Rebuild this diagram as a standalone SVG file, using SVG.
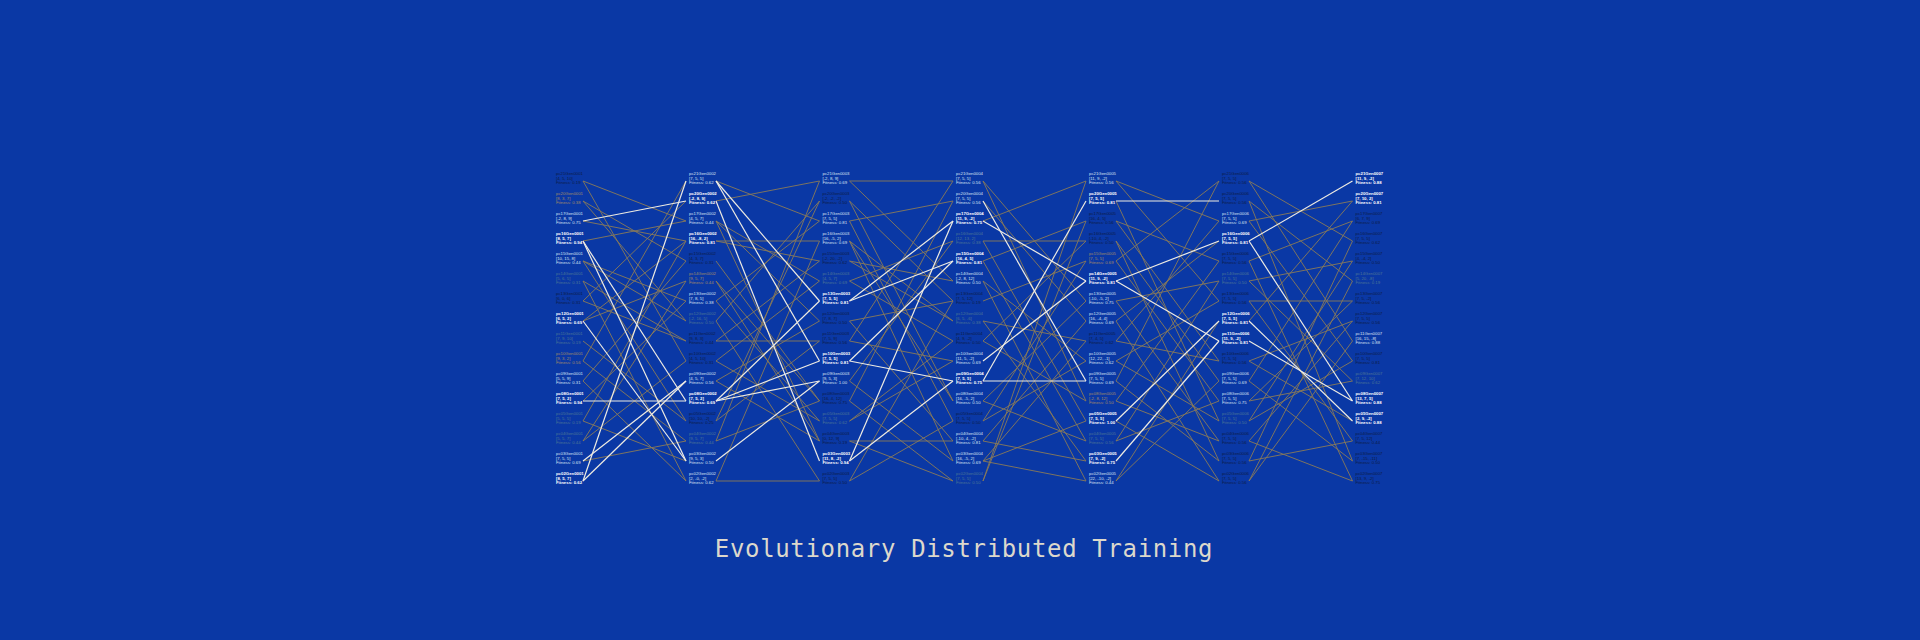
<svg xmlns="http://www.w3.org/2000/svg" width="1920" height="640" viewBox="0 0 1920 640">
<style>
.n text{font-family:"Liberation Sans",Arial,sans-serif;font-size:4.3px}
.w{fill:#ffffff;font-weight:bold}
.l{fill:#dbe3f3}
.d{fill:#0d1c45}
.t{fill:#a48c68}
.f{fill:#4d7696}
.ew{stroke:#eeebe2;stroke-width:1.2;fill:none}
.et{stroke:#8a7b58;stroke-width:0.9;fill:none}
.title{font-family:"DejaVu Sans Mono",monospace;font-size:24px;letter-spacing:0.65px;fill:#dcd8cc}
</style>
<rect width="1920" height="640" fill="#0a38a5"/>
<g id="connectors">
<g id="gap1">
<line class="et" x1="583" y1="201" x2="686" y2="261"/>
<line class="et" x1="583" y1="201" x2="686" y2="321"/>
<line class="et" x1="583" y1="181" x2="686" y2="221"/>
<line class="et" x1="583" y1="181" x2="686" y2="361"/>
<line class="et" x1="583" y1="241" x2="686" y2="221"/>
<line class="et" x1="583" y1="261" x2="686" y2="301"/>
<line class="et" x1="583" y1="261" x2="686" y2="321"/>
<line class="et" x1="583" y1="261" x2="686" y2="421"/>
<line class="et" x1="583" y1="281" x2="686" y2="341"/>
<line class="et" x1="583" y1="281" x2="686" y2="481"/>
<line class="et" x1="583" y1="301" x2="686" y2="201"/>
<line class="et" x1="583" y1="321" x2="686" y2="241"/>
<line class="et" x1="583" y1="321" x2="686" y2="281"/>
<line class="et" x1="583" y1="341" x2="686" y2="421"/>
<line class="et" x1="583" y1="361" x2="686" y2="181"/>
<line class="et" x1="583" y1="361" x2="686" y2="441"/>
<line class="et" x1="583" y1="381" x2="686" y2="261"/>
<line class="et" x1="583" y1="381" x2="686" y2="481"/>
<line class="et" x1="583" y1="401" x2="686" y2="301"/>
<line class="et" x1="583" y1="421" x2="686" y2="241"/>
<line class="et" x1="583" y1="441" x2="686" y2="281"/>
<line class="et" x1="583" y1="441" x2="686" y2="361"/>
<line class="et" x1="583" y1="461" x2="686" y2="441"/>
<line class="et" x1="583" y1="301" x2="686" y2="341"/>
<line class="et" x1="583" y1="221" x2="686" y2="241"/>
<line class="et" x1="583" y1="421" x2="686" y2="461"/>
<line class="ew" x1="583" y1="221" x2="686" y2="201"/>
<line class="ew" x1="583" y1="241" x2="686" y2="401"/>
<line class="ew" x1="583" y1="241" x2="686" y2="461"/>
<line class="ew" x1="583" y1="321" x2="686" y2="461"/>
<line class="ew" x1="583" y1="401" x2="686" y2="401"/>
<line class="ew" x1="583" y1="481" x2="686" y2="181"/>
<line class="ew" x1="583" y1="461" x2="686" y2="381"/>
<line class="ew" x1="583" y1="481" x2="686" y2="381"/>
</g>
<g id="gap2">
<line class="et" x1="716" y1="201" x2="819.5" y2="181"/>
<line class="et" x1="716" y1="241" x2="819.5" y2="241"/>
<line class="et" x1="716" y1="181" x2="819.5" y2="221"/>
<line class="et" x1="716" y1="221" x2="819.5" y2="281"/>
<line class="et" x1="716" y1="221" x2="819.5" y2="321"/>
<line class="et" x1="716" y1="241" x2="819.5" y2="261"/>
<line class="et" x1="716" y1="261" x2="819.5" y2="401"/>
<line class="et" x1="716" y1="281" x2="819.5" y2="441"/>
<line class="et" x1="716" y1="301" x2="819.5" y2="221"/>
<line class="et" x1="716" y1="301" x2="819.5" y2="421"/>
<line class="et" x1="716" y1="321" x2="819.5" y2="201"/>
<line class="et" x1="716" y1="321" x2="819.5" y2="481"/>
<line class="et" x1="716" y1="341" x2="819.5" y2="261"/>
<line class="et" x1="716" y1="341" x2="819.5" y2="341"/>
<line class="et" x1="716" y1="361" x2="819.5" y2="281"/>
<line class="et" x1="716" y1="361" x2="819.5" y2="421"/>
<line class="et" x1="716" y1="381" x2="819.5" y2="321"/>
<line class="et" x1="716" y1="381" x2="819.5" y2="441"/>
<line class="et" x1="716" y1="421" x2="819.5" y2="201"/>
<line class="et" x1="716" y1="421" x2="819.5" y2="341"/>
<line class="et" x1="716" y1="441" x2="819.5" y2="181"/>
<line class="et" x1="716" y1="441" x2="819.5" y2="401"/>
<line class="et" x1="716" y1="481" x2="819.5" y2="241"/>
<line class="et" x1="716" y1="481" x2="819.5" y2="481"/>
<line class="et" x1="716" y1="221" x2="819.5" y2="441"/>
<line class="et" x1="716" y1="281" x2="819.5" y2="401"/>
<line class="ew" x1="716" y1="181" x2="819.5" y2="301"/>
<line class="ew" x1="716" y1="181" x2="819.5" y2="361"/>
<line class="ew" x1="716" y1="201" x2="819.5" y2="461"/>
<line class="ew" x1="716" y1="401" x2="819.5" y2="301"/>
<line class="ew" x1="716" y1="401" x2="819.5" y2="361"/>
<line class="ew" x1="716" y1="401" x2="819.5" y2="381"/>
<line class="ew" x1="716" y1="461" x2="819.5" y2="381"/>
</g>
<g id="gap3">
<line class="et" x1="849.5" y1="181" x2="953" y2="181"/>
<line class="et" x1="849.5" y1="181" x2="953" y2="281"/>
<line class="et" x1="849.5" y1="201" x2="953" y2="301"/>
<line class="et" x1="849.5" y1="201" x2="953" y2="401"/>
<line class="et" x1="849.5" y1="221" x2="953" y2="201"/>
<line class="et" x1="849.5" y1="221" x2="953" y2="421"/>
<line class="et" x1="849.5" y1="241" x2="953" y2="321"/>
<line class="et" x1="849.5" y1="241" x2="953" y2="401"/>
<line class="et" x1="849.5" y1="241" x2="953" y2="461"/>
<line class="et" x1="849.5" y1="261" x2="953" y2="281"/>
<line class="et" x1="849.5" y1="261" x2="953" y2="321"/>
<line class="et" x1="849.5" y1="281" x2="953" y2="241"/>
<line class="et" x1="849.5" y1="281" x2="953" y2="341"/>
<line class="et" x1="849.5" y1="321" x2="953" y2="301"/>
<line class="et" x1="849.5" y1="321" x2="953" y2="441"/>
<line class="et" x1="849.5" y1="341" x2="953" y2="361"/>
<line class="et" x1="849.5" y1="341" x2="953" y2="181"/>
<line class="et" x1="849.5" y1="381" x2="953" y2="461"/>
<line class="et" x1="849.5" y1="381" x2="953" y2="241"/>
<line class="et" x1="849.5" y1="401" x2="953" y2="481"/>
<line class="et" x1="849.5" y1="401" x2="953" y2="201"/>
<line class="et" x1="849.5" y1="421" x2="953" y2="341"/>
<line class="et" x1="849.5" y1="421" x2="953" y2="361"/>
<line class="et" x1="849.5" y1="441" x2="953" y2="441"/>
<line class="et" x1="849.5" y1="441" x2="953" y2="481"/>
<line class="et" x1="849.5" y1="481" x2="953" y2="421"/>
<line class="et" x1="849.5" y1="481" x2="953" y2="301"/>
<line class="ew" x1="849.5" y1="461" x2="953" y2="221"/>
<line class="ew" x1="849.5" y1="301" x2="953" y2="221"/>
<line class="ew" x1="849.5" y1="301" x2="953" y2="261"/>
<line class="ew" x1="849.5" y1="361" x2="953" y2="261"/>
<line class="ew" x1="849.5" y1="361" x2="953" y2="381"/>
<line class="ew" x1="849.5" y1="461" x2="953" y2="381"/>
</g>
<g id="gap4">
<line class="et" x1="983" y1="221" x2="1086" y2="181"/>
<line class="et" x1="983" y1="261" x2="1086" y2="221"/>
<line class="et" x1="983" y1="181" x2="1086" y2="301"/>
<line class="et" x1="983" y1="181" x2="1086" y2="401"/>
<line class="et" x1="983" y1="201" x2="1086" y2="321"/>
<line class="et" x1="983" y1="241" x2="1086" y2="241"/>
<line class="et" x1="983" y1="241" x2="1086" y2="421"/>
<line class="et" x1="983" y1="261" x2="1086" y2="441"/>
<line class="et" x1="983" y1="281" x2="1086" y2="361"/>
<line class="et" x1="983" y1="281" x2="1086" y2="481"/>
<line class="et" x1="983" y1="301" x2="1086" y2="261"/>
<line class="et" x1="983" y1="321" x2="1086" y2="341"/>
<line class="et" x1="983" y1="321" x2="1086" y2="461"/>
<line class="et" x1="983" y1="341" x2="1086" y2="241"/>
<line class="et" x1="983" y1="341" x2="1086" y2="401"/>
<line class="et" x1="983" y1="401" x2="1086" y2="301"/>
<line class="et" x1="983" y1="401" x2="1086" y2="441"/>
<line class="et" x1="983" y1="421" x2="1086" y2="261"/>
<line class="et" x1="983" y1="421" x2="1086" y2="361"/>
<line class="et" x1="983" y1="441" x2="1086" y2="321"/>
<line class="et" x1="983" y1="441" x2="1086" y2="461"/>
<line class="et" x1="983" y1="461" x2="1086" y2="341"/>
<line class="et" x1="983" y1="461" x2="1086" y2="421"/>
<line class="et" x1="983" y1="461" x2="1086" y2="481"/>
<line class="et" x1="983" y1="481" x2="1086" y2="181"/>
<line class="et" x1="983" y1="481" x2="1086" y2="221"/>
<line class="ew" x1="983" y1="221" x2="1086" y2="281"/>
<line class="ew" x1="983" y1="361" x2="1086" y2="281"/>
<line class="ew" x1="983" y1="381" x2="1086" y2="201"/>
<line class="ew" x1="983" y1="201" x2="1086" y2="381"/>
<line class="ew" x1="983" y1="381" x2="1086" y2="381"/>
</g>
<g id="gap5">
<line class="et" x1="1116" y1="181" x2="1219" y2="221"/>
<line class="et" x1="1116" y1="181" x2="1219" y2="301"/>
<line class="et" x1="1116" y1="201" x2="1219" y2="421"/>
<line class="et" x1="1116" y1="221" x2="1219" y2="261"/>
<line class="et" x1="1116" y1="221" x2="1219" y2="361"/>
<line class="et" x1="1116" y1="241" x2="1219" y2="381"/>
<line class="et" x1="1116" y1="241" x2="1219" y2="461"/>
<line class="et" x1="1116" y1="261" x2="1219" y2="181"/>
<line class="et" x1="1116" y1="261" x2="1219" y2="401"/>
<line class="et" x1="1116" y1="301" x2="1219" y2="281"/>
<line class="et" x1="1116" y1="301" x2="1219" y2="441"/>
<line class="et" x1="1116" y1="321" x2="1219" y2="481"/>
<line class="et" x1="1116" y1="321" x2="1219" y2="241"/>
<line class="et" x1="1116" y1="341" x2="1219" y2="221"/>
<line class="et" x1="1116" y1="341" x2="1219" y2="361"/>
<line class="et" x1="1116" y1="361" x2="1219" y2="301"/>
<line class="et" x1="1116" y1="361" x2="1219" y2="421"/>
<line class="et" x1="1116" y1="381" x2="1219" y2="181"/>
<line class="et" x1="1116" y1="381" x2="1219" y2="461"/>
<line class="et" x1="1116" y1="401" x2="1219" y2="261"/>
<line class="et" x1="1116" y1="401" x2="1219" y2="441"/>
<line class="et" x1="1116" y1="441" x2="1219" y2="281"/>
<line class="et" x1="1116" y1="441" x2="1219" y2="401"/>
<line class="et" x1="1116" y1="481" x2="1219" y2="321"/>
<line class="et" x1="1116" y1="481" x2="1219" y2="381"/>
<line class="et" x1="1116" y1="421" x2="1219" y2="481"/>
<line class="ew" x1="1116" y1="201" x2="1219" y2="201"/>
<line class="ew" x1="1116" y1="281" x2="1219" y2="341"/>
<line class="ew" x1="1116" y1="461" x2="1219" y2="341"/>
<line class="ew" x1="1116" y1="281" x2="1219" y2="241"/>
<line class="ew" x1="1116" y1="421" x2="1219" y2="321"/>
</g>
<g id="gap6">
<line class="et" x1="1249" y1="181" x2="1352.5" y2="241"/>
<line class="et" x1="1249" y1="181" x2="1352.5" y2="341"/>
<line class="et" x1="1249" y1="201" x2="1352.5" y2="281"/>
<line class="et" x1="1249" y1="201" x2="1352.5" y2="461"/>
<line class="et" x1="1249" y1="221" x2="1352.5" y2="201"/>
<line class="et" x1="1249" y1="221" x2="1352.5" y2="361"/>
<line class="et" x1="1249" y1="261" x2="1352.5" y2="221"/>
<line class="et" x1="1249" y1="261" x2="1352.5" y2="481"/>
<line class="et" x1="1249" y1="281" x2="1352.5" y2="261"/>
<line class="et" x1="1249" y1="281" x2="1352.5" y2="381"/>
<line class="et" x1="1249" y1="301" x2="1352.5" y2="301"/>
<line class="et" x1="1249" y1="301" x2="1352.5" y2="441"/>
<line class="et" x1="1249" y1="321" x2="1352.5" y2="201"/>
<line class="et" x1="1249" y1="361" x2="1352.5" y2="321"/>
<line class="et" x1="1249" y1="361" x2="1352.5" y2="421"/>
<line class="et" x1="1249" y1="381" x2="1352.5" y2="221"/>
<line class="et" x1="1249" y1="381" x2="1352.5" y2="461"/>
<line class="et" x1="1249" y1="401" x2="1352.5" y2="301"/>
<line class="et" x1="1249" y1="401" x2="1352.5" y2="381"/>
<line class="et" x1="1249" y1="421" x2="1352.5" y2="261"/>
<line class="et" x1="1249" y1="421" x2="1352.5" y2="361"/>
<line class="et" x1="1249" y1="441" x2="1352.5" y2="321"/>
<line class="et" x1="1249" y1="441" x2="1352.5" y2="481"/>
<line class="et" x1="1249" y1="461" x2="1352.5" y2="241"/>
<line class="et" x1="1249" y1="461" x2="1352.5" y2="441"/>
<line class="et" x1="1249" y1="481" x2="1352.5" y2="281"/>
<line class="et" x1="1249" y1="481" x2="1352.5" y2="341"/>
<line class="ew" x1="1249" y1="241" x2="1352.5" y2="401"/>
<line class="ew" x1="1249" y1="341" x2="1352.5" y2="401"/>
<line class="ew" x1="1249" y1="321" x2="1352.5" y2="421"/>
<line class="ew" x1="1249" y1="241" x2="1352.5" y2="181"/>
</g>
</g>
<g id="col1" class="n">
<g id="pc21Gen0001" class="d" transform="translate(556,172)"><text y="3">pc21Gen0001</text><text y="7.7">[4, 5, 10]</text><text y="12.4">Fitness: 0.19</text></g>
<g id="pc20Gen0001" class="t" transform="translate(556,192)"><text y="3">pc20Gen0001</text><text y="7.7">[8, 3, 7]</text><text y="12.4">Fitness: 0.38</text></g>
<g id="pc17Gen0001" class="l" transform="translate(556,212)"><text y="3">pc17Gen0001</text><text y="7.7">[-2, 8, 9]</text><text y="12.4">Fitness: 0.75</text></g>
<g id="pc16Gen0001" class="w" transform="translate(556,232)"><text y="3">pc16Gen0001</text><text y="7.7">[8, 5, 7]</text><text y="12.4">Fitness: 0.94</text></g>
<g id="pc15Gen0001" class="l" transform="translate(556,252)"><text y="3">pc15Gen0001</text><text y="7.7">[10, 15, 8]</text><text y="12.4">Fitness: 0.44</text></g>
<g id="pc14Gen0001" class="f" transform="translate(556,272)"><text y="3">pc14Gen0001</text><text y="7.7">[5, 6, 5]</text><text y="12.4">Fitness: 0.31</text></g>
<g id="pc13Gen0001" class="d" transform="translate(556,292)"><text y="3">pc13Gen0001</text><text y="7.7">[6, 0, 6]</text><text y="12.4">Fitness: 0.31</text></g>
<g id="pc12Gen0001" class="w" transform="translate(556,312)"><text y="3">pc12Gen0001</text><text y="7.7">[6, 5, 2]</text><text y="12.4">Fitness: 0.69</text></g>
<g id="pc11Gen0001" class="f" transform="translate(556,332)"><text y="3">pc11Gen0001</text><text y="7.7">[7, 9, 10]</text><text y="12.4">Fitness: 0.19</text></g>
<g id="pc10Gen0001" class="t" transform="translate(556,352)"><text y="3">pc10Gen0001</text><text y="7.7">[9, 3, 2]</text><text y="12.4">Fitness: 0.56</text></g>
<g id="pc09Gen0001" class="l" transform="translate(556,372)"><text y="3">pc09Gen0001</text><text y="7.7">[5, 5, 9]</text><text y="12.4">Fitness: 0.31</text></g>
<g id="pc08Gen0001" class="w" transform="translate(556,392)"><text y="3">pc08Gen0001</text><text y="7.7">[7, 5, 2]</text><text y="12.4">Fitness: 0.94</text></g>
<g id="pc05Gen0001" class="f" transform="translate(556,412)"><text y="3">pc05Gen0001</text><text y="7.7">[5, 5, 5]</text><text y="12.4">Fitness: 0.19</text></g>
<g id="pc04Gen0001" class="f" transform="translate(556,432)"><text y="3">pc04Gen0001</text><text y="7.7">[5, 5, 7]</text><text y="12.4">Fitness: 0.44</text></g>
<g id="pc03Gen0001" class="l" transform="translate(556,452)"><text y="3">pc03Gen0001</text><text y="7.7">[7, 5, 5]</text><text y="12.4">Fitness: 0.69</text></g>
<g id="pc02Gen0001" class="w" transform="translate(556,472)"><text y="3">pc02Gen0001</text><text y="7.7">[8, 5, 7]</text><text y="12.4">Fitness: 0.62</text></g>
</g>
<g id="col2" class="n">
<g id="pc21Gen0002" class="l" transform="translate(689,172)"><text y="3">pc21Gen0002</text><text y="7.7">[7, 5, 5]</text><text y="12.4">Fitness: 0.62</text></g>
<g id="pc20Gen0002" class="w" transform="translate(689,192)"><text y="3">pc20Gen0002</text><text y="7.7">[-2, 8, 9]</text><text y="12.4">Fitness: 0.62</text></g>
<g id="pc17Gen0002" class="l" transform="translate(689,212)"><text y="3">pc17Gen0002</text><text y="7.7">[4, 5, 7]</text><text y="12.4">Fitness: 0.44</text></g>
<g id="pc16Gen0002" class="w" transform="translate(689,232)"><text y="3">pc16Gen0002</text><text y="7.7">[16, -8, 2]</text><text y="12.4">Fitness: 0.81</text></g>
<g id="pc15Gen0002" class="d" transform="translate(689,252)"><text y="3">pc15Gen0002</text><text y="7.7">[4, 3, 7]</text><text y="12.4">Fitness: 0.31</text></g>
<g id="pc14Gen0002" class="t" transform="translate(689,272)"><text y="3">pc14Gen0002</text><text y="7.7">[9, 5, 7]</text><text y="12.4">Fitness: 0.44</text></g>
<g id="pc13Gen0002" class="l" transform="translate(689,292)"><text y="3">pc13Gen0002</text><text y="7.7">[7, 8, 5]</text><text y="12.4">Fitness: 0.38</text></g>
<g id="pc12Gen0002" class="f" transform="translate(689,312)"><text y="3">pc12Gen0002</text><text y="7.7">[-2, 16, 5]</text><text y="12.4">Fitness: 0.50</text></g>
<g id="pc11Gen0002" class="d" transform="translate(689,332)"><text y="3">pc11Gen0002</text><text y="7.7">[9, 8, 3]</text><text y="12.4">Fitness: 0.44</text></g>
<g id="pc10Gen0002" class="d" transform="translate(689,352)"><text y="3">pc10Gen0002</text><text y="7.7">[4, 5, 10]</text><text y="12.4">Fitness: 0.31</text></g>
<g id="pc09Gen0002" class="l" transform="translate(689,372)"><text y="3">pc09Gen0002</text><text y="7.7">[4, 5, 7]</text><text y="12.4">Fitness: 0.56</text></g>
<g id="pc08Gen0002" class="w" transform="translate(689,392)"><text y="3">pc08Gen0002</text><text y="7.7">[7, 5, 2]</text><text y="12.4">Fitness: 0.69</text></g>
<g id="pc05Gen0002" class="d" transform="translate(689,412)"><text y="3">pc05Gen0002</text><text y="7.7">[10, 10, -2]</text><text y="12.4">Fitness: 0.25</text></g>
<g id="pc04Gen0002" class="f" transform="translate(689,432)"><text y="3">pc04Gen0002</text><text y="7.7">[9, 5, 7]</text><text y="12.4">Fitness: 0.44</text></g>
<g id="pc03Gen0002" class="l" transform="translate(689,452)"><text y="3">pc03Gen0002</text><text y="7.7">[9, 5, 3]</text><text y="12.4">Fitness: 0.50</text></g>
<g id="pc02Gen0002" class="l" transform="translate(689,472)"><text y="3">pc02Gen0002</text><text y="7.7">[2, -0, -2]</text><text y="12.4">Fitness: 0.62</text></g>
</g>
<g id="col3" class="n">
<g id="pc21Gen0003" class="l" transform="translate(822.5,172)"><text y="3">pc21Gen0003</text><text y="7.7">[-2, 8, 9]</text><text y="12.4">Fitness: 0.69</text></g>
<g id="pc20Gen0003" class="d" transform="translate(822.5,192)"><text y="3">pc20Gen0003</text><text y="7.7">[-2, -2, -2]</text><text y="12.4">Fitness: 0.50</text></g>
<g id="pc17Gen0003" class="l" transform="translate(822.5,212)"><text y="3">pc17Gen0003</text><text y="7.7">[7, 5, 5]</text><text y="12.4">Fitness: 0.81</text></g>
<g id="pc16Gen0003" class="l" transform="translate(822.5,232)"><text y="3">pc16Gen0003</text><text y="7.7">[16, -5, 2]</text><text y="12.4">Fitness: 0.69</text></g>
<g id="pc15Gen0003" class="d" transform="translate(822.5,252)"><text y="3">pc15Gen0003</text><text y="7.7">[-2, 20, -2]</text><text y="12.4">Fitness: 0.62</text></g>
<g id="pc14Gen0003" class="f" transform="translate(822.5,272)"><text y="3">pc14Gen0003</text><text y="7.7">[4, 5, 7]</text><text y="12.4">Fitness: 0.69</text></g>
<g id="pc13Gen0003" class="w" transform="translate(822.5,292)"><text y="3">pc13Gen0003</text><text y="7.7">[7, 5, 5]</text><text y="12.4">Fitness: 0.81</text></g>
<g id="pc12Gen0003" class="d" transform="translate(822.5,312)"><text y="3">pc12Gen0003</text><text y="7.7">[7, 8, 7]</text><text y="12.4">Fitness: 0.50</text></g>
<g id="pc11Gen0003" class="d" transform="translate(822.5,332)"><text y="3">pc11Gen0003</text><text y="7.7">[7, 5, 9]</text><text y="12.4">Fitness: 0.56</text></g>
<g id="pc10Gen0003" class="w" transform="translate(822.5,352)"><text y="3">pc10Gen0003</text><text y="7.7">[7, 5, 5]</text><text y="12.4">Fitness: 0.81</text></g>
<g id="pc09Gen0003" class="l" transform="translate(822.5,372)"><text y="3">pc09Gen0003</text><text y="7.7">[9, 5, 3]</text><text y="12.4">Fitness: 1.00</text></g>
<g id="pc08Gen0003" class="d" transform="translate(822.5,392)"><text y="3">pc08Gen0003</text><text y="7.7">[16, 4, 12]</text><text y="12.4">Fitness: 0.75</text></g>
<g id="pc05Gen0003" class="f" transform="translate(822.5,412)"><text y="3">pc05Gen0003</text><text y="7.7">[7, 5, 5]</text><text y="12.4">Fitness: 0.62</text></g>
<g id="pc04Gen0003" class="d" transform="translate(822.5,432)"><text y="3">pc04Gen0003</text><text y="7.7">[0, 12, 9]</text><text y="12.4">Fitness: 0.19</text></g>
<g id="pc03Gen0003" class="w" transform="translate(822.5,452)"><text y="3">pc03Gen0003</text><text y="7.7">[11, 8, -2]</text><text y="12.4">Fitness: 0.94</text></g>
<g id="pc02Gen0003" class="d" transform="translate(822.5,472)"><text y="3">pc02Gen0003</text><text y="7.7">[7, 5, 5]</text><text y="12.4">Fitness: 0.50</text></g>
</g>
<g id="col4" class="n">
<g id="pc21Gen0004" class="l" transform="translate(956,172)"><text y="3">pc21Gen0004</text><text y="7.7">[7, 5, 5]</text><text y="12.4">Fitness: 0.56</text></g>
<g id="pc20Gen0004" class="l" transform="translate(956,192)"><text y="3">pc20Gen0004</text><text y="7.7">[7, 5, 5]</text><text y="12.4">Fitness: 0.56</text></g>
<g id="pc17Gen0004" class="w" transform="translate(956,212)"><text y="3">pc17Gen0004</text><text y="7.7">[11, 9, -2]</text><text y="12.4">Fitness: 0.75</text></g>
<g id="pc16Gen0004" class="f" transform="translate(956,232)"><text y="3">pc16Gen0004</text><text y="7.7">[12, 13, 2]</text><text y="12.4">Fitness: 0.38</text></g>
<g id="pc15Gen0004" class="w" transform="translate(956,252)"><text y="3">pc15Gen0004</text><text y="7.7">[16, 4, 5]</text><text y="12.4">Fitness: 0.81</text></g>
<g id="pc14Gen0004" class="l" transform="translate(956,272)"><text y="3">pc14Gen0004</text><text y="7.7">[-2, 8, 12]</text><text y="12.4">Fitness: 0.50</text></g>
<g id="pc13Gen0004" class="d" transform="translate(956,292)"><text y="3">pc13Gen0004</text><text y="7.7">[7, 5, 12]</text><text y="12.4">Fitness: 0.19</text></g>
<g id="pc12Gen0004" class="f" transform="translate(956,312)"><text y="3">pc12Gen0004</text><text y="7.7">[6, 5, -6]</text><text y="12.4">Fitness: 0.38</text></g>
<g id="pc11Gen0004" class="d" transform="translate(956,332)"><text y="3">pc11Gen0004</text><text y="7.7">[4, 9, -2]</text><text y="12.4">Fitness: 0.50</text></g>
<g id="pc10Gen0004" class="l" transform="translate(956,352)"><text y="3">pc10Gen0004</text><text y="7.7">[11, 5, -2]</text><text y="12.4">Fitness: 0.69</text></g>
<g id="pc09Gen0004" class="w" transform="translate(956,372)"><text y="3">pc09Gen0004</text><text y="7.7">[7, 5, 5]</text><text y="12.4">Fitness: 0.75</text></g>
<g id="pc08Gen0004" class="l" transform="translate(956,392)"><text y="3">pc08Gen0004</text><text y="7.7">[16, -5, 2]</text><text y="12.4">Fitness: 0.50</text></g>
<g id="pc05Gen0004" class="d" transform="translate(956,412)"><text y="3">pc05Gen0004</text><text y="7.7">[7, 5, 5]</text><text y="12.4">Fitness: 0.50</text></g>
<g id="pc04Gen0004" class="l" transform="translate(956,432)"><text y="3">pc04Gen0004</text><text y="7.7">[-10, 4, -2]</text><text y="12.4">Fitness: 0.81</text></g>
<g id="pc03Gen0004" class="l" transform="translate(956,452)"><text y="3">pc03Gen0004</text><text y="7.7">[16, -5, 2]</text><text y="12.4">Fitness: 0.69</text></g>
<g id="pc02Gen0004" class="f" transform="translate(956,472)"><text y="3">pc02Gen0004</text><text y="7.7">[7, 5, 5]</text><text y="12.4">Fitness: 0.50</text></g>
</g>
<g id="col5" class="n">
<g id="pc21Gen0005" class="l" transform="translate(1089,172)"><text y="3">pc21Gen0005</text><text y="7.7">[11, 9, -2]</text><text y="12.4">Fitness: 0.56</text></g>
<g id="pc20Gen0005" class="w" transform="translate(1089,192)"><text y="3">pc20Gen0005</text><text y="7.7">[7, 5, 5]</text><text y="12.4">Fitness: 0.81</text></g>
<g id="pc17Gen0005" class="d" transform="translate(1089,212)"><text y="3">pc17Gen0005</text><text y="7.7">[16, 4, 5]</text><text y="12.4">Fitness: 0.56</text></g>
<g id="pc16Gen0005" class="d" transform="translate(1089,232)"><text y="3">pc16Gen0005</text><text y="7.7">[-10, 4, -2]</text><text y="12.4">Fitness: 0.50</text></g>
<g id="pc15Gen0005" class="t" transform="translate(1089,252)"><text y="3">pc15Gen0005</text><text y="7.7">[7, 5, 5]</text><text y="12.4">Fitness: 0.69</text></g>
<g id="pc14Gen0005" class="w" transform="translate(1089,272)"><text y="3">pc14Gen0005</text><text y="7.7">[11, 9, -2]</text><text y="12.4">Fitness: 0.81</text></g>
<g id="pc13Gen0005" class="l" transform="translate(1089,292)"><text y="3">pc13Gen0005</text><text y="7.7">[-10, -5, 2]</text><text y="12.4">Fitness: 0.75</text></g>
<g id="pc12Gen0005" class="l" transform="translate(1089,312)"><text y="3">pc12Gen0005</text><text y="7.7">[16, -4, 4]</text><text y="12.4">Fitness: 0.69</text></g>
<g id="pc11Gen0005" class="d" transform="translate(1089,332)"><text y="3">pc11Gen0005</text><text y="7.7">[7, 4, 5]</text><text y="12.4">Fitness: 0.62</text></g>
<g id="pc10Gen0005" class="l" transform="translate(1089,352)"><text y="3">pc10Gen0005</text><text y="7.7">[12, 22, -1]</text><text y="12.4">Fitness: 0.62</text></g>
<g id="pc09Gen0005" class="l" transform="translate(1089,372)"><text y="3">pc09Gen0005</text><text y="7.7">[7, 5, 5]</text><text y="12.4">Fitness: 0.69</text></g>
<g id="pc08Gen0005" class="t" transform="translate(1089,392)"><text y="3">pc08Gen0005</text><text y="7.7">[-2, 8, 12]</text><text y="12.4">Fitness: 0.50</text></g>
<g id="pc05Gen0005" class="w" transform="translate(1089,412)"><text y="3">pc05Gen0005</text><text y="7.7">[7, 5, 5]</text><text y="12.4">Fitness: 1.00</text></g>
<g id="pc04Gen0005" class="f" transform="translate(1089,432)"><text y="3">pc04Gen0005</text><text y="7.7">[7, 5, 5]</text><text y="12.4">Fitness: 0.56</text></g>
<g id="pc03Gen0005" class="w" transform="translate(1089,452)"><text y="3">pc03Gen0005</text><text y="7.7">[7, 9, -2]</text><text y="12.4">Fitness: 0.75</text></g>
<g id="pc02Gen0005" class="l" transform="translate(1089,472)"><text y="3">pc02Gen0005</text><text y="7.7">[22, -10, -2]</text><text y="12.4">Fitness: 0.44</text></g>
</g>
<g id="col6" class="n">
<g id="pc21Gen0006" class="d" transform="translate(1222,172)"><text y="3">pc21Gen0006</text><text y="7.7">[7, 5, 5]</text><text y="12.4">Fitness: 0.56</text></g>
<g id="pc20Gen0006" class="d" transform="translate(1222,192)"><text y="3">pc20Gen0006</text><text y="7.7">[7, 5, 5]</text><text y="12.4">Fitness: 0.56</text></g>
<g id="pc17Gen0006" class="l" transform="translate(1222,212)"><text y="3">pc17Gen0006</text><text y="7.7">[7, 5, 5]</text><text y="12.4">Fitness: 0.69</text></g>
<g id="pc16Gen0006" class="w" transform="translate(1222,232)"><text y="3">pc16Gen0006</text><text y="7.7">[7, 5, 5]</text><text y="12.4">Fitness: 0.81</text></g>
<g id="pc15Gen0006" class="d" transform="translate(1222,252)"><text y="3">pc15Gen0006</text><text y="7.7">[7, 5, 5]</text><text y="12.4">Fitness: 0.56</text></g>
<g id="pc14Gen0006" class="f" transform="translate(1222,272)"><text y="3">pc14Gen0006</text><text y="7.7">[7, 5, 5]</text><text y="12.4">Fitness: 0.50</text></g>
<g id="pc13Gen0006" class="d" transform="translate(1222,292)"><text y="3">pc13Gen0006</text><text y="7.7">[7, 5, 5]</text><text y="12.4">Fitness: 0.56</text></g>
<g id="pc12Gen0006" class="w" transform="translate(1222,312)"><text y="3">pc12Gen0006</text><text y="7.7">[7, 5, 5]</text><text y="12.4">Fitness: 0.81</text></g>
<g id="pc11Gen0006" class="w" transform="translate(1222,332)"><text y="3">pc11Gen0006</text><text y="7.7">[11, 9, -2]</text><text y="12.4">Fitness: 0.81</text></g>
<g id="pc10Gen0006" class="d" transform="translate(1222,352)"><text y="3">pc10Gen0006</text><text y="7.7">[7, 5, 5]</text><text y="12.4">Fitness: 0.56</text></g>
<g id="pc09Gen0006" class="l" transform="translate(1222,372)"><text y="3">pc09Gen0006</text><text y="7.7">[7, 5, 5]</text><text y="12.4">Fitness: 0.69</text></g>
<g id="pc08Gen0006" class="l" transform="translate(1222,392)"><text y="3">pc08Gen0006</text><text y="7.7">[7, 5, 5]</text><text y="12.4">Fitness: 0.75</text></g>
<g id="pc05Gen0006" class="f" transform="translate(1222,412)"><text y="3">pc05Gen0006</text><text y="7.7">[7, 5, 5]</text><text y="12.4">Fitness: 0.50</text></g>
<g id="pc04Gen0006" class="d" transform="translate(1222,432)"><text y="3">pc04Gen0006</text><text y="7.7">[7, 5, 5]</text><text y="12.4">Fitness: 0.56</text></g>
<g id="pc03Gen0006" class="d" transform="translate(1222,452)"><text y="3">pc03Gen0006</text><text y="7.7">[7, 5, 5]</text><text y="12.4">Fitness: 0.56</text></g>
<g id="pc02Gen0006" class="d" transform="translate(1222,472)"><text y="3">pc02Gen0006</text><text y="7.7">[7, 5, 5]</text><text y="12.4">Fitness: 0.56</text></g>
</g>
<g id="col7" class="n">
<g id="pc21Gen0007" class="w" transform="translate(1355.5,172)"><text y="3">pc21Gen0007</text><text y="7.7">[11, 9, -2]</text><text y="12.4">Fitness: 0.88</text></g>
<g id="pc20Gen0007" class="w" transform="translate(1355.5,192)"><text y="3">pc20Gen0007</text><text y="7.7">[7, 10, 2]</text><text y="12.4">Fitness: 0.81</text></g>
<g id="pc17Gen0007" class="d" transform="translate(1355.5,212)"><text y="3">pc17Gen0007</text><text y="7.7">[6, 7, 9]</text><text y="12.4">Fitness: 0.69</text></g>
<g id="pc16Gen0007" class="d" transform="translate(1355.5,232)"><text y="3">pc16Gen0007</text><text y="7.7">[7, 5, 5]</text><text y="12.4">Fitness: 0.62</text></g>
<g id="pc15Gen0007" class="d" transform="translate(1355.5,252)"><text y="3">pc15Gen0007</text><text y="7.7">[4, -4, 2]</text><text y="12.4">Fitness: 0.50</text></g>
<g id="pc14Gen0007" class="f" transform="translate(1355.5,272)"><text y="3">pc14Gen0007</text><text y="7.7">[5, 20, -8]</text><text y="12.4">Fitness: 0.19</text></g>
<g id="pc13Gen0007" class="d" transform="translate(1355.5,292)"><text y="3">pc13Gen0007</text><text y="7.7">[7, 5, -2]</text><text y="12.4">Fitness: 0.56</text></g>
<g id="pc12Gen0007" class="d" transform="translate(1355.5,312)"><text y="3">pc12Gen0007</text><text y="7.7">[7, 5, 5]</text><text y="12.4">Fitness: 0.56</text></g>
<g id="pc11Gen0007" class="l" transform="translate(1355.5,332)"><text y="3">pc11Gen0007</text><text y="7.7">[16, 15, -8]</text><text y="12.4">Fitness: 0.88</text></g>
<g id="pc10Gen0007" class="d" transform="translate(1355.5,352)"><text y="3">pc10Gen0007</text><text y="7.7">[7, 5, 5]</text><text y="12.4">Fitness: 0.81</text></g>
<g id="pc09Gen0007" class="f" transform="translate(1355.5,372)"><text y="3">pc09Gen0007</text><text y="7.7">[7, 12, 10]</text><text y="12.4">Fitness: 0.62</text></g>
<g id="pc08Gen0007" class="w" transform="translate(1355.5,392)"><text y="3">pc08Gen0007</text><text y="7.7">[13, 7, 5]</text><text y="12.4">Fitness: 0.88</text></g>
<g id="pc05Gen0007" class="w" transform="translate(1355.5,412)"><text y="3">pc05Gen0007</text><text y="7.7">[2, 9, -2]</text><text y="12.4">Fitness: 0.88</text></g>
<g id="pc04Gen0007" class="d" transform="translate(1355.5,432)"><text y="3">pc04Gen0007</text><text y="7.7">[7, 5, 12]</text><text y="12.4">Fitness: 0.44</text></g>
<g id="pc03Gen0007" class="d" transform="translate(1355.5,452)"><text y="3">pc03Gen0007</text><text y="7.7">[7, -15, -11]</text><text y="12.4">Fitness: 0.50</text></g>
<g id="pc02Gen0007" class="d" transform="translate(1355.5,472)"><text y="3">pc02Gen0007</text><text y="7.7">[13, 9, -2]</text><text y="12.4">Fitness: 0.75</text></g>
</g>
<text class="title" x="964" y="557" text-anchor="middle">Evolutionary Distributed Training</text>
</svg>
